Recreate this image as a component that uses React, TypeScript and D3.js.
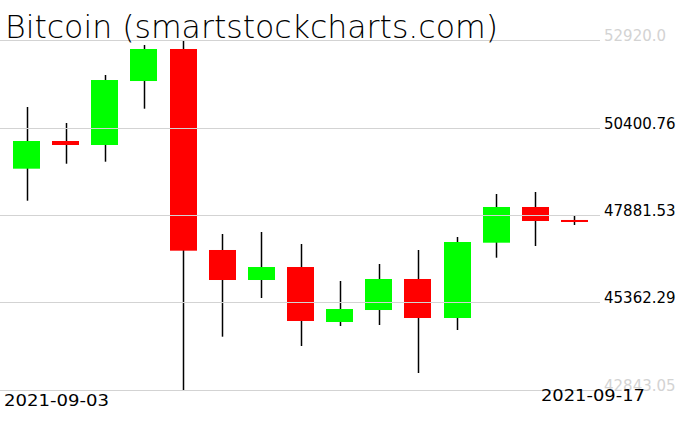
import React from "react";
import * as d3 from "d3";

const dates = [
  "2021-09-03", "2021-09-04", "2021-09-05", "2021-09-06", "2021-09-07",
  "2021-09-08", "2021-09-09", "2021-09-10", "2021-09-11", "2021-09-12",
  "2021-09-13", "2021-09-14", "2021-09-15", "2021-09-16", "2021-09-17",
];
const opens = [49215, 50012, 49897, 51739, 52661, 46874, 46010, 46384, 44801, 45146, 46039, 44916, 47084, 48112, 47738];
const highs = [50991, 50530, 51912, 52776, 52920, 47334, 47392, 47046, 45981, 46471, 46874, 47248, 48486, 48544, 47853];
const lows = [48293, 49358, 49416, 50942, 42843.05, 44378, 45492, 44110, 44686, 44714, 43332, 44570, 46652, 46989, 47594];
const closes = [50012, 49897, 51768, 52661, 46854, 46010, 46384, 44830, 45175, 46039, 44916, 47104, 48112, 47709, 47680];

const tickValues = [52920.0, 50400.76, 47881.53, 45362.29, 42843.05];
const tickLabels = ["52920.0", "50400.76", "47881.53", "45362.29", "42843.05"];
const dateLabels = ["2021-09-03", "2021-09-17"];
const title = "Bitcoin (smartstockcharts.com)";

const W = 676;
const H = 431;

export default function App() {
  const x = d3.scaleBand<string>().domain(dates).range([7, 594]).padding(0);
  const y = d3.scaleLinear().domain([42843.05, 52920.0]).range([390, 40]);
  const bodyW = x.bandwidth() * 0.69;
  const font = "'DejaVu Sans', sans-serif";
  const cx = (d: string) => (x(d) as number) + x.bandwidth() / 2;

  return (
    <svg width={W} height={H} style={{ position: "absolute", left: 0, top: 0, background: "#fff" }}>
      <rect x={0} y={0} width={W} height={H} fill="#fff" />
      {dates.map((d, i) => {
        const c = Math.round(cx(d)) + 0.5;
        return (
          <line key={"w" + i} x1={c} x2={c} y1={y(highs[i])} y2={y(lows[i])} stroke="#000" strokeWidth={1.5} />
        );
      })}
      {dates.map((d, i) => {
        const up = closes[i] >= opens[i];
        const top = y(Math.max(opens[i], closes[i]));
        const bot = y(Math.min(opens[i], closes[i]));
        return (
          <rect
            key={"b" + i}
            x={Math.round(cx(d) - bodyW / 2)}
            y={top}
            width={Math.round(bodyW)}
            height={Math.max(1, bot - top)}
            fill={up ? "#00ff00" : "#ff0000"}
          />
        );
      })}
      {tickValues.map((v, i) => (
        <line key={"g" + i} x1={0} x2={600} y1={Math.round(y(v)) + 0.5} y2={Math.round(y(v)) + 0.5} stroke="#d3d3d3" strokeWidth={1} />
      ))}
      {tickValues.map((v, i) => (
        <text
          key={"t" + i}
          x={604}
          y={y(v) + 1}
          fontFamily={font}
          fontSize={15}
          fill={i === 0 || i === tickValues.length - 1 ? "#d3d3d3" : "#000"}
        >
          {tickLabels[i]}
        </text>
      ))}
      <text x={cx(dates[0]) - 22.5} y={406} fontFamily={font} fontSize={15} textLength={105} lengthAdjust="spacingAndGlyphs" fill="#000">
        {dateLabels[0]}
      </text>
      <text x={cx(dates[dates.length - 1]) - 33.5} y={400.5} fontFamily={font} fontSize={15} textLength={104} lengthAdjust="spacingAndGlyphs" fill="#000">
        {dateLabels[1]}
      </text>
      <text x={5} y={37.5} fontFamily={font} fontSize={31.5} fontWeight={200} fill="#000" textLength={493} lengthAdjust="spacingAndGlyphs">
        {title}
      </text>
    </svg>
  );
}
